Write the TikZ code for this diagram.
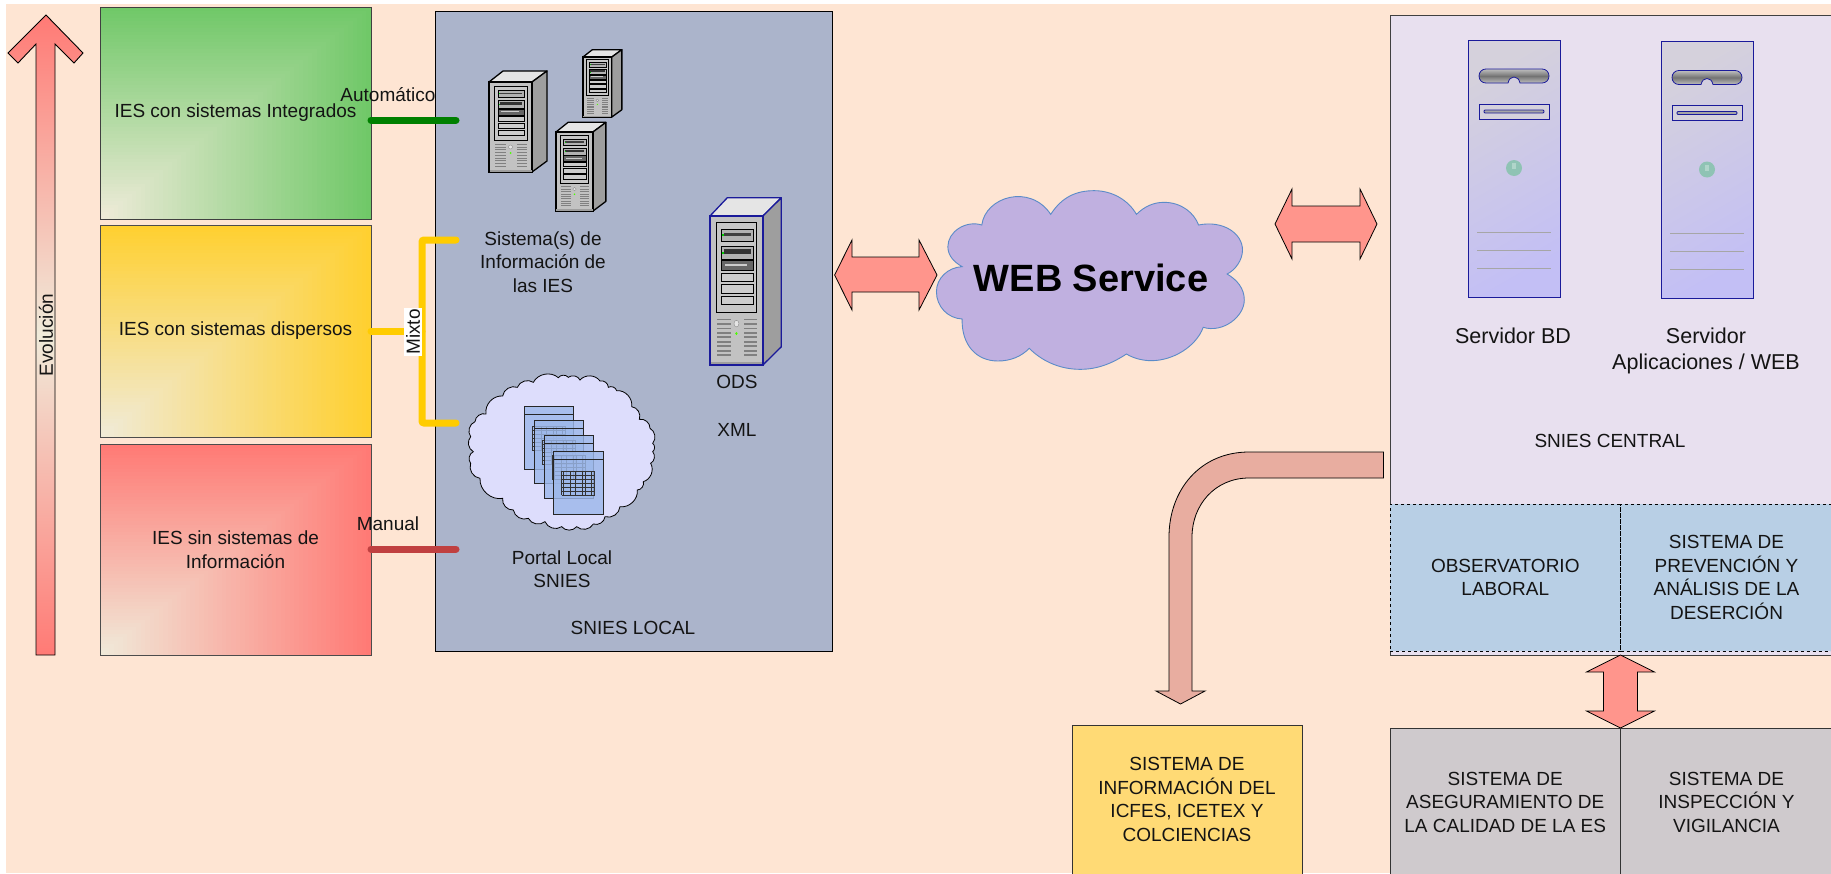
\documentclass[tikz,border=0pt]{standalone}
\usepackage{fontspec}
\setmainfont{Liberation Sans}
\usetikzlibrary{calc}
\definecolor{pagebg}{HTML}{FEE5D3}
\definecolor{palec}{HTML}{F0EBDA}
\definecolor{greenc}{HTML}{70C868}
\definecolor{yellowc}{HTML}{FFD030}
\definecolor{redc}{HTML}{FF7A75}
\definecolor{localbg}{HTML}{ABB4CB}
\definecolor{centralbg}{HTML}{E8E0EF}
\definecolor{bluebg}{HTML}{B8CFE5}
\definecolor{graybg}{HTML}{CFCACD}
\definecolor{yellowbg}{HTML}{FFDA75}
\definecolor{arrowc}{HTML}{FF958C}
\definecolor{curvec}{HTML}{E8ADA0}
\definecolor{cloudc}{HTML}{C0B0E0}
\definecolor{cloudl}{HTML}{5B8BC8}
\definecolor{navyc}{HTML}{1A1A9A}
\definecolor{docc}{HTML}{9DB8EA}
\definecolor{portalc}{HTML}{DDDDFC}
\definecolor{flatl}{HTML}{D5D1DC}
\definecolor{flatr}{HTML}{C3BFF5}
\definecolor{ledc}{HTML}{8FC3B4}
\definecolor{conng}{HTML}{008000}
\definecolor{conny}{HTML}{FFCC00}
\definecolor{connr}{HTML}{C04040}
\tikzset{
  lbl/.style={font=\fontsize{19}{23.5}\selectfont,align=center,inner sep=0pt,outer sep=0pt,text=black!92},
  lblbig/.style={font=\fontsize{21.5}{26}\selectfont,align=center,inner sep=0pt,outer sep=0pt,text=black!92},
  boxn/.style={lbl,anchor=north west,inner sep=0pt,outer sep=0pt,line width=1pt},
  conn/.style={line width=7pt,line cap=round},
  dbl/.style={fill=arrowc,draw=black,line width=.8pt,line join=miter},
  puff/.style={bend left=52},
}
\newcommand{\gradfill}[5]{%
  \foreach \i in {0,...,59}{%
    \pgfmathsetmacro{\tt}{1-\i/60}%
    \pgfmathsetmacro{\pp}{100*\i/60}%
    \fill[palec!\pp!#5] (#1,#4) rectangle ({#1+(#3-#1)*\tt},{#4-(#4-#2)*\tt});%
  }}
\newcommand{\towerpc}[5]{%
  \begin{scope}[shift={(#1,#2)},xscale=#3,yscale=#4]
    \draw[#5,line width=1.3pt,line join=round,fill=black!10] (0,0)--(14,-11)--(58,-11)--(43,0)--cycle;
    \draw[#5,line width=1.3pt,line join=round,fill=black!38] (43,0)--(58,-11)--(58,79)--(43,90)--cycle;
    \draw[#5,line width=1.3pt,fill=black!24] (0,0) rectangle (43,90);
    \fill[black!38] (0.5,88) rectangle (42.5,89.5);
    \draw[black,line width=.6pt,fill=black!22] (5,4) rectangle (38,58);
    \draw[black,line width=.5pt,fill=black!30] (9,8) rectangle (35,15);
    \fill[black!75] (11,10.5) rectangle (33,12);
    \draw[black,line width=.5pt,fill=black!30] (9,18) rectangle (35,26);
    \fill[black!80] (11,20) rectangle (33,23);
    \draw[black,line width=.5pt,fill=black!60] (9,27) rectangle (35,33);
    \fill[black!20] (12,29.2) rectangle (30,30.3);
    \foreach \yy in {34.5,41.5,48.5}{\draw[black,line width=.5pt,fill=black!20] (9,\yy) rectangle (35,{\yy+5});}
    \fill[green!80!black] (10,11) rectangle (11,12);
    \fill[green!80!black] (10,22) rectangle (11,23);
    \foreach \yy in {62,64.7,...,85}{\fill[black!50] (6,\yy) rectangle (17,{\yy+1}); \fill[black!50] (28,\yy) rectangle (38,{\yy+1});}
    \draw[black!45,line width=.4pt,fill=black!10] (21.5,65) circle (2);
    \fill[green!70!yellow] (21.5,71) circle (1);
  \end{scope}}
\newcommand{\flatpc}[2]{%
  \begin{scope}[shift={(#1,#2)}]
    \shade[top color=flatl,bottom color=flatr,shading angle=30,draw=navyc,line width=1pt] (0,0) rectangle (92,257);
    \shade[top color=black!25,bottom color=black!25,middle color=black!55,draw=navyc,line width=.8pt]
      (18,29) -- (74,29) .. controls (78,29) and (81,32) .. (81,36) .. controls (81,40) and (78,43) .. (74,43)
      -- (52,43) .. controls (51,39) and (49,37) .. (46,37) .. controls (43,37) and (41,39) .. (40,43)
      -- (18,43) .. controls (14,43) and (11,40) .. (11,36) .. controls (11,32) and (14,29) .. (18,29) -- cycle;
    \draw[navyc,line width=.8pt,fill=flatl] (11,64) rectangle (81,79);
    \draw[navyc,line width=.8pt,fill=black!35,rounded corners=1pt] (16,70) rectangle (76,73);
    \fill[ledc] (46,128) circle (8);
    \fill[white,opacity=.3] (44,123) rectangle (48,129);
    \foreach \yy in {192,210,228}{\draw[black!35,line width=1pt] (9,\yy) -- (83,\yy);}
  \end{scope}}
\newcommand{\docsheet}[2]{%
  \begin{scope}[shift={(#1,#2)}]
    \fill[docc,fill opacity=.82] (0,0) rectangle (49.3,63);
    \draw[black!85,line width=.7pt] (0,0) rectangle (49.3,63);
    \draw[black!85,line width=.5pt] (0,8) -- (49.3,8);
    \begin{scope}[shift={(8,20)}]
      \foreach \yy in {0,4,8,12,16,20,24}{\draw[black!80,line width=.6pt] (0,\yy) -- (33,\yy);}
      \foreach \xx in {0,2,9,14,21,24,30,33}{\draw[black!80,line width=.6pt] (\xx,0) -- (\xx,24);}
    \end{scope}
  \end{scope}}
\begin{document}
\begin{tikzpicture}[x=1pt,y=-1pt]
\useasboundingbox (0,0) rectangle (1831,873);
\clip (0,0) rectangle (1831,873);
\fill[white] (0,0) rectangle (1831,873);
\fill[pagebg] (6,4) rectangle (1831,873);

% evolution arrow
\shade[top color=redc,bottom color=redc,middle color=palec,draw=black,line width=.9pt,line join=miter]
  (46,15) -- (83,53) -- (74,63) -- (55,44) -- (55,655) -- (36,655) -- (36,44) -- (18,63) -- (8,53) -- cycle;
\node[lbl,rotate=90] (evol) at (46,335) {Evolución};

% IES boxes
\gradfill{100}{7}{371}{219}{greenc}
\node[boxn,draw=black!75,minimum width=271pt,minimum height=212pt] (iesint) at (100,7) {IES con sistemas Integrados};
\gradfill{100}{225}{371}{437}{yellowc}
\node[boxn,draw=black!70,minimum width=271pt,minimum height=212pt] (iesdis) at (100,225) {IES con sistemas dispersos};
\gradfill{100}{444}{371}{655}{redc}
\node[boxn,draw=black!70,minimum width=271pt,minimum height=211pt] (iessin) at (100,444) {IES sin sistemas de\\Información};

% SNIES local
\node[boxn,fill=localbg,draw=black,minimum width=397pt,minimum height=640pt] (local) at (435,11) {};

% connectors
\coordinate (ga) at (371,120); \coordinate (gb) at (456,120);
\coordinate (ya) at (456,240); \coordinate (yb) at (422,240); \coordinate (yc) at (422,423); \coordinate (yd) at (456,423);
\coordinate (ye) at (371,331); \coordinate (yf) at (422,331);
\coordinate (ra) at (371,549); \coordinate (rb) at (456,549);
\draw[conn,draw=conng] (ga) -- (gb);
\draw[conn,draw=conny,rounded corners=2pt] (ya) -- (yb) -- (yc) -- (yd);
\draw[conn,draw=conny] (ye) -- (yf);
\draw[conn,draw=connr] (ra) -- (rb);
\node[lbl,fill=white,rotate=90,inner xsep=1pt,inner ysep=2pt] (mixto) at (413,332) {Mixto};
\node[lbl] (auto) at (388,95) {Automático};
\node[lbl] (manual) at (388,524) {Manual};

% servers
\towerpc{489}{82}{1}{1}{black}
\towerpc{583}{57}{.67}{.667}{black}
\towerpc{556}{132}{.86}{.878}{black}
\towerpc{710}{216}{1.23}{1.655}{navyc}
\node[lbl] (sisinf) at (543,262) {Sistema(s) de\\Información de\\las IES};
\node[lbl] (ods) at (737,382) {ODS};
\node[lbl] (xml) at (737,430) {XML};
\node[lbl] (portal) at (562,569) {Portal Local\\SNIES};
\node[lbl] (snlocal) at (633,628) {SNIES LOCAL};

% portal cloud
\begin{scope}[shift={(430,300)},x=.33333pt,y=-.33333pt]
\draw[fill=portalc,draw=black,line width=.8pt]
 (168,342) to[puff] (218,288) to[puff] (262,262) to[puff] (310,247) to[puff] (385,233)
 to[puff] (415,232) to[puff] (450,240) to[puff] (510,243) to[puff] (535,262) to[puff] (560,272)
 to[puff] (605,320) to[puff] (628,358) to[puff] (660,385) to[puff] (668,430) to[puff] (668,455)
 to[puff] (662,490) to[puff] (640,545) to[puff] (622,570) to[puff] (570,620) to[puff] (525,650)
 to[puff] (490,672) to[puff] (440,680) to[puff] (395,680) to[puff] (345,665) to[puff] (295,655)
 to[puff] (250,630) to[puff] (218,595) to[puff] (150,535) to[puff] (122,490) to[puff] (130,455)
 to[puff] (122,410) to[puff] (135,365) to[puff] (168,342) -- cycle;
\end{scope}
\docsheet{524.3}{406}
\docsheet{534.3}{420}
\docsheet{544}{435}
\docsheet{553.7}{451.3}

% double arrows
\draw[dbl] (834.6,275) -- (852,240) -- (852,257) -- (919,257) -- (919,240) -- (937,275) -- (919,310) -- (919,292) -- (852,292) -- (852,310) -- cycle;
\draw[dbl] (1275,224) -- (1292,189) -- (1292,206) -- (1360,206) -- (1360,189) -- (1377,224) -- (1360,259) -- (1360,242) -- (1292,242) -- (1292,259) -- cycle;

% web cloud
\begin{scope}[shift={(830,170)},x=.35714pt,y=-.33333pt]
\draw[fill=cloudc,draw=cloudl,line width=.9pt]
 (425,165) .. controls (435,80) and (560,40) .. (618,133)
 .. controls (650,80) and (690,62) .. (740,62) .. controls (790,62) and (835,90) .. (858,133)
 .. controls (880,110) and (905,97) .. (935,97) .. controls (985,97) and (1020,130) .. (1032,165)
 .. controls (1100,150) and (1155,190) .. (1155,240) .. controls (1155,270) and (1135,300) .. (1112,312)
 .. controls (1140,330) and (1160,355) .. (1160,390) .. controls (1160,440) and (1100,490) .. (1045,472)
 .. controls (1025,530) and (960,572) .. (900,572) .. controls (875,572) and (850,565) .. (830,552)
 .. controls (790,580) and (750,598) .. (700,598) .. controls (640,598) and (590,570) .. (558,535)
 .. controls (535,560) and (505,573) .. (470,573) .. controls (410,573) and (368,525) .. (370,447)
 .. controls (330,445) and (298,410) .. (298,365) .. controls (298,325) and (330,292) .. (370,290)
 .. controls (345,275) and (330,255) .. (330,230) .. controls (330,185) and (380,150) .. (425,165) -- cycle;
\end{scope}
\node[font=\fontsize{38}{44}\selectfont\bfseries,inner sep=0pt] (web) at (1091,278) {WEB Service};

% central
\node[boxn,fill=centralbg,draw=black!75,minimum width=445pt,minimum height=640pt] (central) at (1390,15) {};
\flatpc{1468}{40}
\flatpc{1661}{41.5}
\node[lblbig] (srvbd) at (1513,335.5) {Servidor BD};
\node[lblbig] (srvapp) at (1706,350.5) {Servidor\\Aplicaciones / WEB};
\node[lbl] (sncentral) at (1610,441) {SNIES CENTRAL};
\node[boxn,fill=bluebg,draw=black,dashed,line width=.7pt,minimum width=230.5pt,minimum height=147pt] (obs) at (1390,504) {OBSERVATORIO\\LABORAL};
\node[boxn,fill=bluebg,draw=black,dashed,line width=.7pt,minimum width=212pt,minimum height=147pt] (prev) at (1620.5,504) {SISTEMA DE\\PREVENCIÓN Y\\ANÁLISIS DE LA\\DESERCIÓN};

% vertical double arrow
\draw[dbl] (1620.5,655) -- (1654.5,672) -- (1637.5,672) -- (1637.5,711) -- (1654.5,711) -- (1620.5,728) -- (1586.5,711) -- (1603.5,711) -- (1603.5,672) -- (1586.5,672) -- cycle;

% bottom systems
\node[boxn,fill=graybg,draw=black!80,minimum width=230.5pt,minimum height=148pt] (aseg) at (1390,728) {SISTEMA DE\\ASEGURAMIENTO DE\\LA CALIDAD DE LA ES};
\node[boxn,fill=graybg,draw=black!80,minimum width=212pt,minimum height=148pt] (insp) at (1620.5,728) {SISTEMA DE\\INSPECCIÓN Y\\VIGILANCIA};
\node[boxn,fill=yellowbg,draw=black!80,minimum width=230pt,minimum height=149pt] (icfes) at (1072,725) {SISTEMA DE\\INFORMACIÓN DEL\\ICFES, ICETEX Y\\COLCIENCIAS};

% curved arrow
\draw[fill=curvec,draw=black,line width=.8pt,line join=miter]
 (1383.5,452) -- (1249,452) .. controls (1200,452) and (1169,490) .. (1169,537) -- (1169,691) -- (1156,691) -- (1180.5,704) -- (1205,691) -- (1192,691) -- (1192,537) .. controls (1192,505) and (1215,478) .. (1249,478) -- (1383.5,478) -- cycle;
\end{tikzpicture}
\end{document}
